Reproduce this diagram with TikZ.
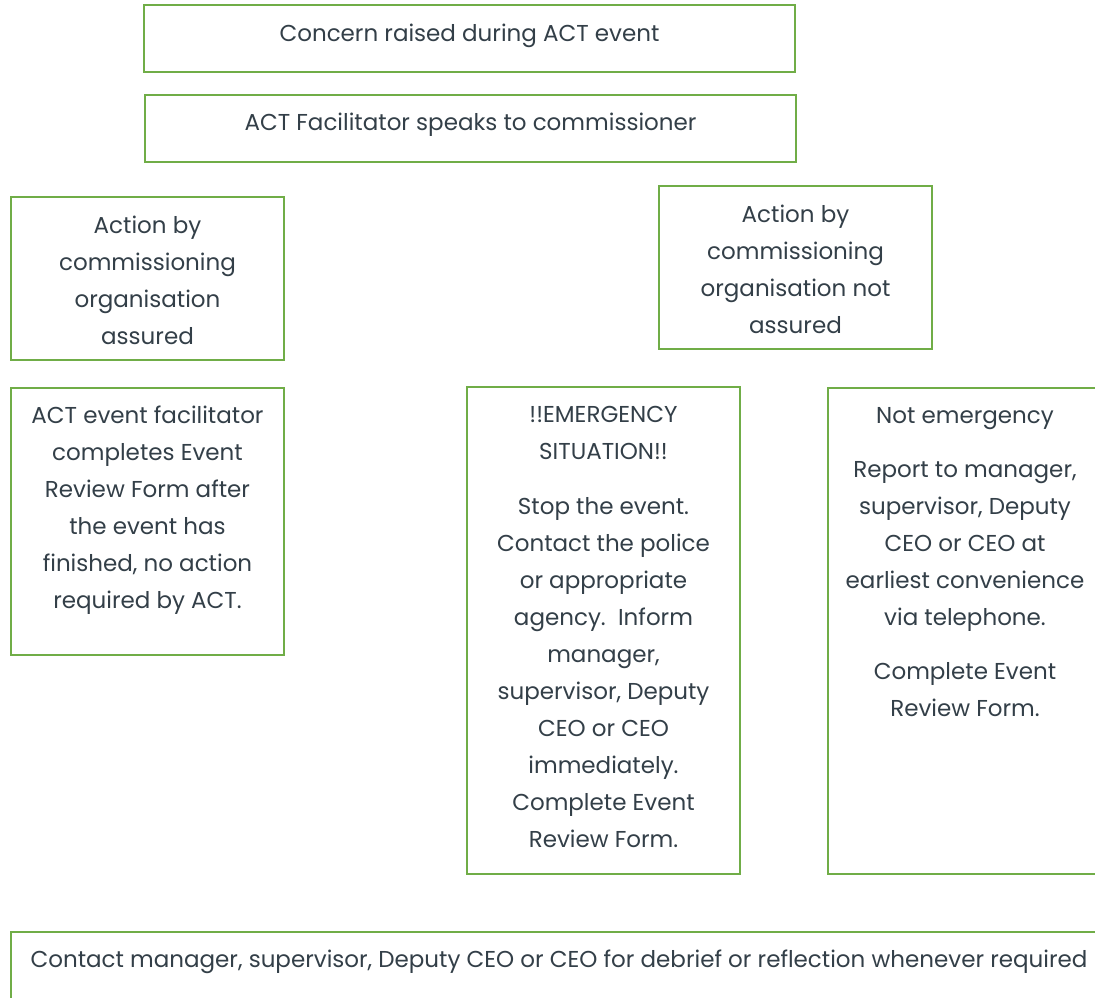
\documentclass[tikz,border=0pt]{standalone}
\usepackage{fontspec}
\setmainfont{Poppins}
\definecolor{actgreen}{HTML}{70AD47}
\definecolor{acttext}{HTML}{333F48}
\begin{document}
\begin{tikzpicture}[x=1pt,y=-1pt,
  box/.style={draw=actgreen,line width=2.5pt,inner sep=0pt,outer sep=0pt},
  txt/.style={text=acttext,align=center,inner sep=0pt,anchor=north,yshift=-2pt,font=\fontsize{23}{37}\selectfont}]
\clip (0,0) rectangle (1095,998);
\fill[white] (0,0) rectangle (1095,998);
% boxes
\node[box,minimum width=651pt,minimum height=67pt] (b1) at (469.5,38.5) {};
\node[box,minimum width=651pt,minimum height=67pt] (b2) at (470.5,128.5) {};
\node[box,minimum width=273pt,minimum height=163pt] (b3) at (147.5,278.5) {};
\node[box,minimum width=273pt,minimum height=163pt] (b4) at (795.5,267.5) {};
\node[box,minimum width=273pt,minimum height=267pt] (b5) at (147.5,521.5) {};
\node[box,minimum width=273pt,minimum height=487pt] (b6) at (603.5,630.5) {};
\node[box,minimum width=274pt,minimum height=486pt] (b7) at (965,631) {};
\node[box,minimum width=1096pt,minimum height=108pt] (b8) at (559,986) {};
% texts
\node[txt] (t1) at (469.5,13.6) {\strut Concern raised during ACT event};
\node[txt] (t2) at (470.5,102.6) {\strut ACT Facilitator speaks to commissioner};
\node[txt] (t3) at (147.5,205.6) {\strut Action by\\commissioning\\organisation\\assured};
\node[txt] (t4) at (795.5,194.6) {\strut Action by\\commissioning\\organisation not\\assured};
\node[txt] (t5) at (147.5,395.6) {\strut ACT event facilitator\\completes Event\\Review Form after\\the event has\\finished, no action\\required by ACT.};
\node[txt] (t6) at (603.5,394.6) {\strut !!EMERGENCY\\SITUATION!!\\[18pt]Stop the event.\\Contact the police\\or appropriate\\agency.\ \ Inform\\manager,\\supervisor, Deputy\\CEO or CEO\\immediately.\\Complete Event\\Review Form.};
\node[txt] (t7) at (965,395.6) {\strut Not emergency\\[17pt]Report to manager,\\supervisor, Deputy\\CEO or CEO at\\earliest convenience\\via telephone.\\[17pt]Complete Event\\Review Form.};
\node[txt] (t8) at (559,939.6) {\strut Contact manager, supervisor, Deputy CEO or CEO for debrief or reflection whenever required};
\end{tikzpicture}
\end{document}
